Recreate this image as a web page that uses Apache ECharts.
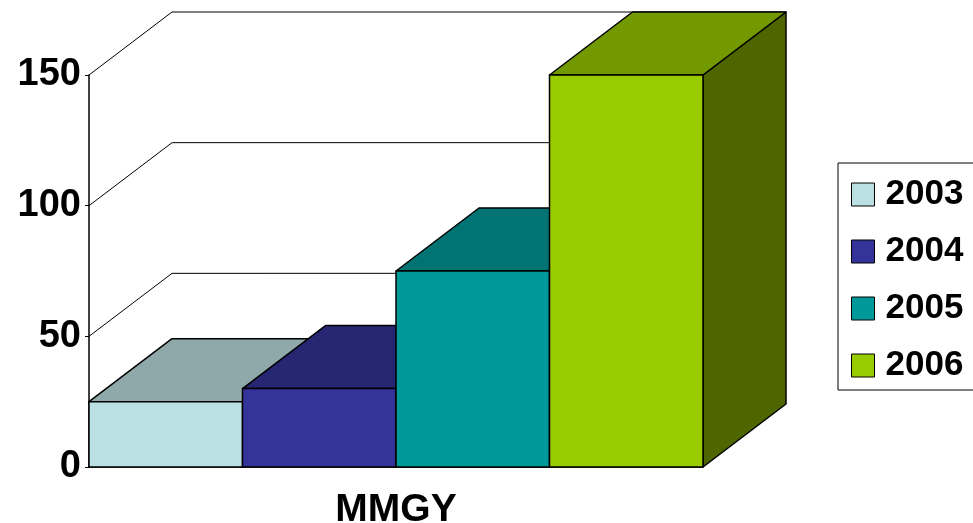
<!DOCTYPE html>
<html>
<head>
<meta charset="utf-8">
<script src="https://cdn.jsdelivr.net/npm/echarts@6/dist/echarts.min.js"></script>
<style>
  html,body{margin:0;padding:0;background:#fff}
  #chart{width:973px;height:523px}
</style>
</head>
<body>
<div id="chart"></div>
<script>
var categories = ['MMGY']
var years = ['2003', '2004', '2005', '2006']
var values = [25, 30, 75, 150]
var yTicks = [0, 50, 100, 150]

var frontColors = ['#BBE0E3', '#333399', '#009999', '#99CC00']
var topColors = ['#8FA9AA', '#262673', '#007373', '#739900']
var sideColors = ['#5E7071', '#1A1A4D', '#004D4D', '#4D6600']

// depth of the fake 3d
var DX = 83, DY = -63
var FONT = 'Arial, "Liberation Sans", sans-serif'

var chart = echarts.init(document.getElementById('chart'))

function gridRender(params, api) {
  var band = api.size([1, 0])[0]
  var p = api.coord([0, api.value(1)])
  var left = p[0] - band / 2
  return {
    type: 'polyline',
    shape: { points: [[left, p[1]], [left + DX, p[1] + DY], [left + band + DX, p[1] + DY]] },
    style: { stroke: '#000', lineWidth: 1, fill: null }
  }
}

function barRender(idx) {
  return function (params, api) {
    var band = api.size([1, 0])[0]
    var top = api.coord([api.value(0), api.value(1)])
    var base = api.coord([api.value(0), 0])
    var w = band / years.length
    var x0 = top[0] - band / 2 + idx * w, x1 = x0 + w
    var yt = top[1], yb = base[1]
    var st = { stroke: '#000', lineWidth: 1.5, lineJoin: 'round' }
    return {
      type: 'group',
      children: [
        { type: 'polygon', shape: { points: [[x1, yb], [x1 + DX, yb + DY], [x1 + DX, yt + DY], [x1, yt]] },
          style: Object.assign({ fill: sideColors[idx] }, st) },
        { type: 'polygon', shape: { points: [[x0, yt], [x0 + DX, yt + DY], [x1 + DX, yt + DY], [x1, yt]] },
          style: Object.assign({ fill: topColors[idx] }, st) },
        { type: 'polygon', shape: { points: [[x0, yb], [x0, yt], [x1, yt], [x1, yb]] },
          style: Object.assign({ fill: frontColors[idx] }, st) }
      ]
    }
  }
}

var series = [{
  name: 'grid',
  type: 'custom',
  renderItem: gridRender,
  data: yTicks.filter(function (v) { return v > 0 }).map(function (v) { return [0, v] }),
  silent: true,
  z: 1
}]
years.forEach(function (y, i) {
  series.push({
    name: y,
    type: 'custom',
    renderItem: barRender(i),
    itemStyle: { color: frontColors[i], borderColor: '#000', borderWidth: 1 },
    data: [[0, values[i]]],
    z: 2 + i
  })
})

var option = {
  animation: false,
  color: frontColors,
  grid: { left: 89, right: 270, top: 75, bottom: 56, containLabel: false, outerBoundsMode: 'none' },
  legend: {
    data: years,
    orient: 'vertical',
    left: 838,
    top: 163,
    icon: 'rect',
    itemWidth: 23,
    itemHeight: 23,
    itemGap: 22,
    padding: [14, 40, 7, 13],
    borderColor: '#000',
    borderWidth: 1,
    itemStyle: { borderColor: '#000', borderWidth: 1 },
    textStyle: { fontFamily: FONT, fontSize: 35, fontWeight: 'bold', color: '#000', padding: [0, 0, 0, 6] }
  },
  xAxis: {
    type: 'category',
    data: categories,
    axisLine: { lineStyle: { color: '#000', width: 1.5 } },
    axisTick: { length: 7, lineStyle: { color: '#000' } },
    axisLabel: { fontFamily: FONT, fontSize: 39, fontWeight: 'bold', color: '#000', margin: 24 }
  },
  yAxis: {
    type: 'value',
    min: 0,
    max: 150,
    interval: 50,
    axisLine: { show: true, lineStyle: { color: '#000', width: 1.5 } },
    axisTick: { show: true, length: 4, lineStyle: { color: '#000' } },
    splitLine: { show: false },
    axisLabel: { fontFamily: FONT, fontSize: 38, fontWeight: 'bold', color: '#000', margin: 8 }
  },
  series: series
}

chart.setOption(option)
</script>
</body>
</html>
